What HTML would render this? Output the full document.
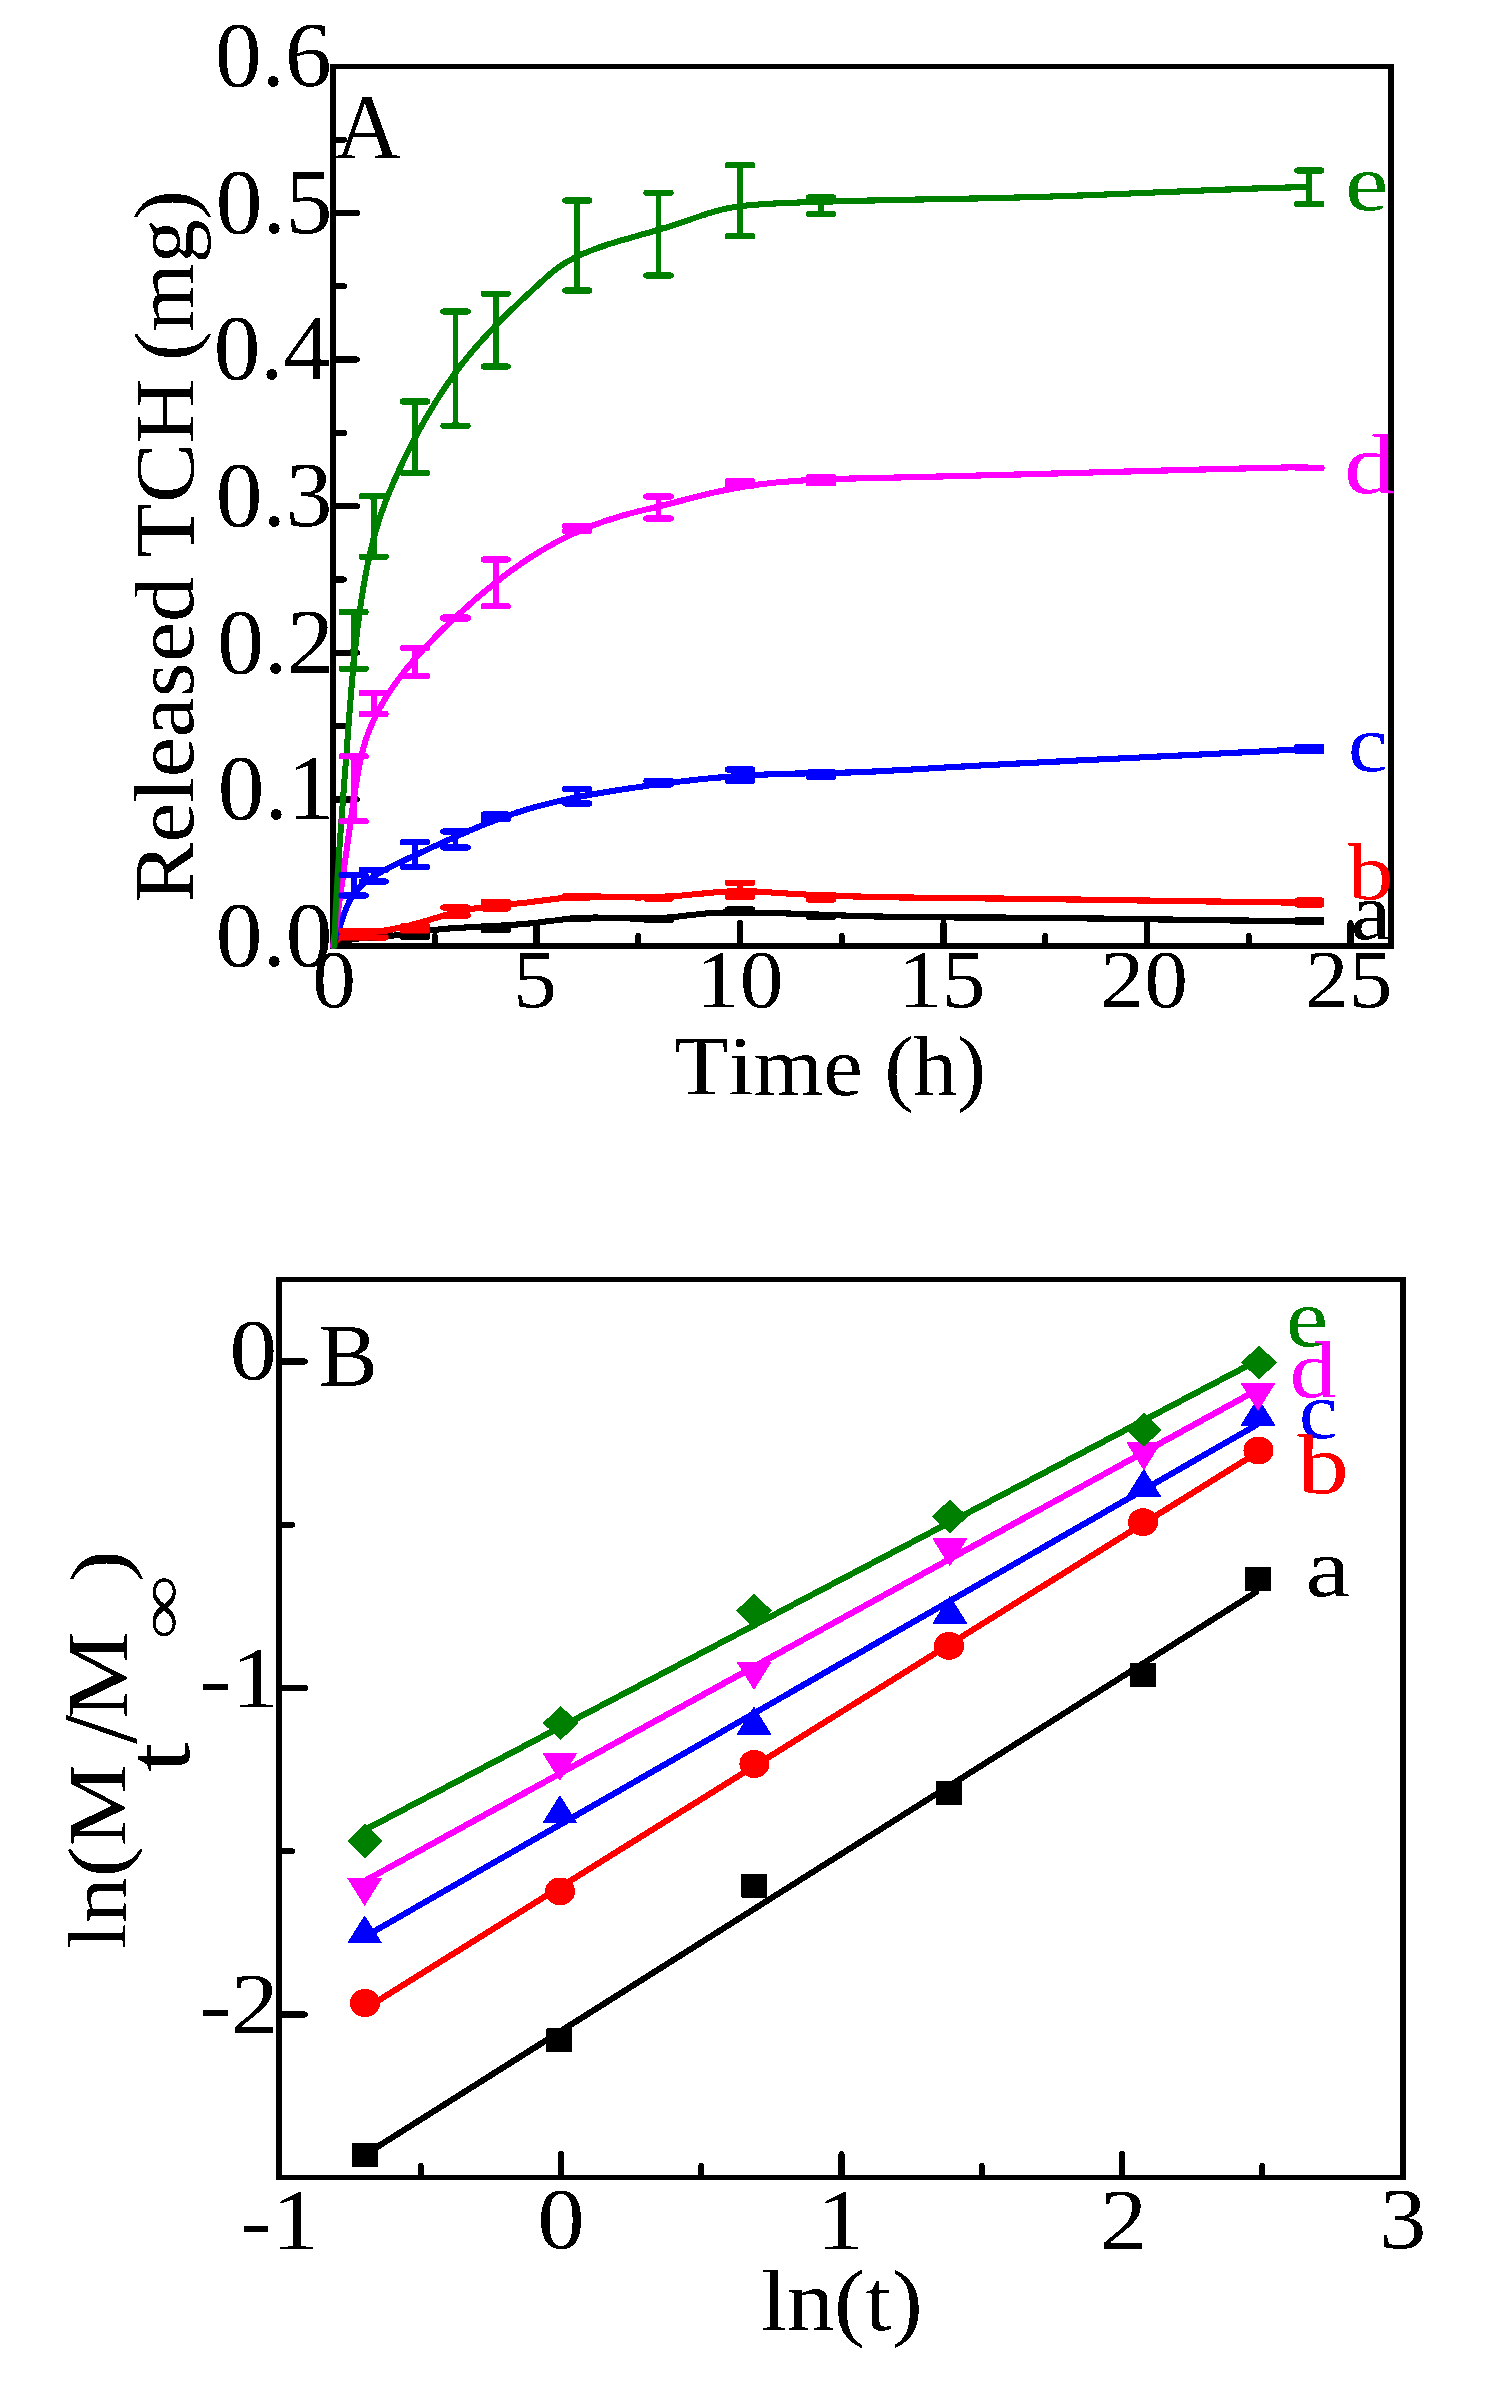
<!DOCTYPE html>
<html><head><meta charset="utf-8"><style>
html,body{margin:0;padding:0;background:#fff;overflow:hidden;}
svg{display:block;}
text{font-family:"Liberation Serif",serif;font-kerning:none;font-variant-ligatures:none;}
</style></head><body>
<svg width="1489" height="2400" viewBox="0 0 1489 2400">
<defs><filter id="crisp" x="0" y="0" width="1489" height="2400" filterUnits="userSpaceOnUse" color-interpolation-filters="sRGB"><feComponentTransfer><feFuncA type="discrete" tableValues="0 1"/></feComponentTransfer></filter></defs>
<rect width="1489" height="2400" fill="#fff"/>
<g filter="url(#crisp)">
<line x1="536.5" y1="944" x2="536.5" y2="923" stroke="#000" stroke-width="6" stroke-linecap="round"/>
<line x1="740" y1="944" x2="740" y2="923" stroke="#000" stroke-width="6" stroke-linecap="round"/>
<line x1="943.5" y1="944" x2="943.5" y2="923" stroke="#000" stroke-width="6" stroke-linecap="round"/>
<line x1="1147" y1="944" x2="1147" y2="923" stroke="#000" stroke-width="6" stroke-linecap="round"/>
<line x1="1350.5" y1="944" x2="1350.5" y2="923" stroke="#000" stroke-width="6" stroke-linecap="round"/>
<line x1="434.75" y1="944" x2="434.75" y2="936" stroke="#000" stroke-width="6" stroke-linecap="round"/>
<line x1="638.25" y1="944" x2="638.25" y2="936" stroke="#000" stroke-width="6" stroke-linecap="round"/>
<line x1="841.75" y1="944" x2="841.75" y2="936" stroke="#000" stroke-width="6" stroke-linecap="round"/>
<line x1="1045.25" y1="944" x2="1045.25" y2="936" stroke="#000" stroke-width="6" stroke-linecap="round"/>
<line x1="1248.75" y1="944" x2="1248.75" y2="936" stroke="#000" stroke-width="6" stroke-linecap="round"/>
<line x1="335" y1="799.4" x2="357" y2="799.4" stroke="#000" stroke-width="6" stroke-linecap="round"/>
<line x1="335" y1="652.8" x2="357" y2="652.8" stroke="#000" stroke-width="6" stroke-linecap="round"/>
<line x1="335" y1="506.2" x2="357" y2="506.2" stroke="#000" stroke-width="6" stroke-linecap="round"/>
<line x1="335" y1="359.6" x2="357" y2="359.6" stroke="#000" stroke-width="6" stroke-linecap="round"/>
<line x1="335" y1="213" x2="357" y2="213" stroke="#000" stroke-width="6" stroke-linecap="round"/>
<line x1="335" y1="872.7" x2="344" y2="872.7" stroke="#000" stroke-width="6" stroke-linecap="round"/>
<line x1="335" y1="726.1" x2="344" y2="726.1" stroke="#000" stroke-width="6" stroke-linecap="round"/>
<line x1="335" y1="579.5" x2="344" y2="579.5" stroke="#000" stroke-width="6" stroke-linecap="round"/>
<line x1="335" y1="432.9" x2="344" y2="432.9" stroke="#000" stroke-width="6" stroke-linecap="round"/>
<line x1="335" y1="286.3" x2="344" y2="286.3" stroke="#000" stroke-width="6" stroke-linecap="round"/>
<line x1="335" y1="139.7" x2="344" y2="139.7" stroke="#000" stroke-width="6" stroke-linecap="round"/>
<rect x="330" y="64" width="1064" height="5" fill="#000"/>
<rect x="330" y="943" width="1064" height="6" fill="#000"/>
<rect x="330" y="64" width="6" height="885" fill="#000"/>
<rect x="1388" y="64" width="6" height="885" fill="#000"/>
<line x1="561" y1="2176" x2="561" y2="2154" stroke="#000" stroke-width="6" stroke-linecap="round"/>
<line x1="841.5" y1="2176" x2="841.5" y2="2154" stroke="#000" stroke-width="6" stroke-linecap="round"/>
<line x1="1122" y1="2176" x2="1122" y2="2154" stroke="#000" stroke-width="6" stroke-linecap="round"/>
<line x1="420.75" y1="2176" x2="420.75" y2="2166" stroke="#000" stroke-width="6" stroke-linecap="round"/>
<line x1="701.25" y1="2176" x2="701.25" y2="2166" stroke="#000" stroke-width="6" stroke-linecap="round"/>
<line x1="981.75" y1="2176" x2="981.75" y2="2166" stroke="#000" stroke-width="6" stroke-linecap="round"/>
<line x1="1262.25" y1="2176" x2="1262.25" y2="2166" stroke="#000" stroke-width="6" stroke-linecap="round"/>
<line x1="281" y1="1361.5" x2="305" y2="1361.5" stroke="#000" stroke-width="6" stroke-linecap="round"/>
<line x1="281" y1="1688" x2="305" y2="1688" stroke="#000" stroke-width="6" stroke-linecap="round"/>
<line x1="281" y1="2014.5" x2="305" y2="2014.5" stroke="#000" stroke-width="6" stroke-linecap="round"/>
<line x1="281" y1="1524.75" x2="292" y2="1524.75" stroke="#000" stroke-width="6" stroke-linecap="round"/>
<line x1="281" y1="1851.25" x2="292" y2="1851.25" stroke="#000" stroke-width="6" stroke-linecap="round"/>
<rect x="276" y="1277" width="1130" height="5" fill="#000"/>
<rect x="276" y="2175" width="1130" height="5" fill="#000"/>
<rect x="276" y="1277" width="6" height="903" fill="#000"/>
<rect x="1400" y="1277" width="6" height="903" fill="#000"/>
<path d="M333.00,946.00 L334.70,945.04 L336.42,944.17 L338.17,943.38 L339.95,942.67 L341.74,942.02 L343.56,941.45 L345.40,940.93 L347.26,940.47 L349.14,940.06 L351.03,939.69 L352.93,939.37 L354.85,939.08 L356.78,938.83 L358.71,938.60 L360.65,938.39 L362.60,938.20 L364.56,938.03 L366.51,937.87 L368.47,937.72 L370.44,937.57 L372.41,937.43 L374.38,937.30 L376.34,937.16 L378.31,937.03 L380.28,936.89 L382.25,936.74 L384.22,936.58 L386.18,936.41 L388.14,936.22 L390.10,936.02 L392.05,935.81 L394.00,935.58 L395.94,935.34 L397.89,935.09 L399.83,934.83 L401.77,934.56 L403.70,934.29 L405.64,934.01 L407.57,933.72 L409.50,933.43 L411.43,933.14 L413.36,932.85 L415.29,932.56 L417.22,932.27 L419.15,931.98 L421.08,931.69 L423.01,931.42 L424.94,931.14 L426.87,930.88 L428.80,930.62 L430.73,930.38 L432.66,930.14 L434.60,929.91 L436.53,929.70 L438.47,929.49 L440.41,929.30 L442.35,929.11 L444.29,928.93 L446.23,928.76 L448.17,928.59 L450.12,928.43 L452.06,928.28 L454.01,928.14 L455.95,928.00 L457.90,927.87 L459.85,927.74 L461.80,927.62 L463.74,927.50 L465.69,927.39 L467.64,927.28 L469.60,927.17 L471.55,927.07 L473.50,926.97 L475.45,926.87 L477.40,926.77 L479.36,926.67 L481.31,926.58 L483.26,926.49 L485.22,926.39 L487.17,926.30 L489.13,926.20 L491.08,926.11 L493.03,926.01 L494.99,925.91 L496.94,925.81 L498.90,925.71 L500.85,925.60 L502.80,925.49 L504.76,925.38 L506.71,925.26 L508.66,925.14 L510.62,925.01 L512.57,924.88 L514.52,924.75 L516.47,924.60 L518.42,924.45 L520.37,924.30 L522.32,924.13 L524.27,923.96 L526.22,923.78 L528.17,923.60 L530.12,923.40 L532.06,923.20 L534.01,922.98 L535.95,922.76 L537.90,922.54 L539.84,922.31 L541.78,922.07 L543.73,921.83 L545.67,921.59 L547.61,921.35 L549.55,921.11 L551.50,920.87 L553.44,920.63 L555.38,920.39 L557.32,920.16 L559.26,919.93 L561.21,919.70 L563.15,919.49 L565.09,919.27 L567.04,919.07 L568.98,918.88 L570.93,918.70 L572.87,918.53 L574.82,918.37 L576.77,918.22 L578.71,918.09 L580.66,917.97 L582.61,917.87 L584.56,917.78 L586.52,917.72 L588.47,917.66 L590.42,917.63 L592.38,917.60 L594.33,917.59 L596.29,917.59 L598.25,917.61 L600.21,917.63 L602.17,917.66 L604.12,917.70 L606.08,917.74 L608.04,917.79 L610.00,917.85 L611.96,917.90 L613.92,917.96 L615.88,918.03 L617.84,918.09 L619.80,918.15 L621.76,918.21 L623.72,918.26 L625.68,918.31 L627.64,918.36 L629.60,918.40 L631.56,918.44 L633.51,918.46 L635.47,918.48 L637.43,918.49 L639.38,918.49 L641.33,918.48 L643.29,918.46 L645.24,918.44 L647.20,918.40 L649.15,918.36 L651.10,918.31 L653.05,918.24 L655.00,918.17 L656.95,918.09 L658.90,918.00 L660.85,917.89 L662.80,917.78 L664.75,917.66 L666.70,917.52 L668.65,917.38 L670.60,917.22 L672.55,917.05 L674.50,916.88 L676.44,916.69 L678.39,916.49 L680.34,916.27 L682.29,916.05 L684.23,915.82 L686.18,915.58 L688.13,915.34 L690.07,915.10 L692.02,914.86 L693.97,914.63 L695.92,914.40 L697.86,914.19 L699.81,913.98 L701.76,913.79 L703.71,913.62 L705.65,913.46 L707.60,913.32 L709.55,913.19 L711.50,913.07 L713.45,912.97 L715.40,912.88 L717.34,912.80 L719.29,912.73 L721.24,912.67 L723.19,912.62 L725.14,912.58 L727.09,912.55 L729.04,912.53 L730.99,912.51 L732.94,912.50 L734.89,912.49 L736.84,912.49 L738.79,912.50 L740.74,912.51 L742.70,912.52 L744.65,912.53 L746.60,912.55 L748.55,912.57 L750.50,912.59 L752.45,912.62 L754.41,912.65 L756.36,912.68 L758.31,912.71 L760.26,912.75 L762.22,912.79 L764.17,912.83 L766.12,912.87 L768.07,912.92 L770.03,912.96 L771.98,913.01 L773.93,913.06 L775.89,913.12 L777.84,913.17 L779.79,913.23 L781.75,913.29 L783.70,913.35 L785.66,913.41 L787.61,913.47 L789.56,913.54 L791.52,913.60 L793.47,913.67 L795.43,913.74 L797.38,913.80 L799.34,913.87 L801.29,913.94 L803.25,914.01 L805.20,914.09 L807.16,914.16 L809.11,914.23 L811.07,914.30 L813.02,914.38 L814.98,914.45 L816.93,914.52 L818.89,914.60 L820.84,914.67 L822.80,914.75 L824.75,914.82 L826.71,914.89 L828.67,914.97 L830.62,915.04 L832.58,915.11 L834.53,915.18 L836.49,915.25 L838.44,915.33 L840.40,915.40 L842.36,915.46 L844.31,915.53 L846.27,915.60 L848.22,915.66 L850.18,915.73 L852.14,915.79 L854.09,915.86 L856.05,915.92 L858.00,915.98 L859.96,916.03 L861.92,916.09 L863.87,916.14 L865.83,916.20 L867.79,916.25 L869.74,916.30 L871.70,916.35 L873.65,916.39 L875.61,916.44 L877.57,916.48 L879.52,916.52 L881.48,916.57 L883.43,916.61 L885.39,916.64 L887.35,916.68 L889.30,916.72 L891.26,916.75 L893.22,916.79 L895.17,916.82 L897.13,916.85 L899.08,916.88 L901.04,916.91 L903.00,916.94 L904.95,916.96 L906.91,916.99 L908.87,917.01 L910.82,917.04 L912.78,917.06 L914.74,917.08 L916.69,917.10 L918.65,917.12 L920.60,917.14 L922.56,917.16 L924.52,917.18 L926.47,917.20 L928.43,917.21 L930.39,917.23 L932.34,917.24 L934.30,917.26 L936.25,917.27 L938.21,917.29 L940.17,917.30 L942.12,917.31 L944.08,917.32 L946.04,917.34 L947.99,917.35 L949.95,917.36 L951.91,917.37 L953.86,917.38 L955.82,917.39 L957.77,917.40 L959.73,917.40 L961.69,917.41 L963.64,917.42 L965.60,917.43 L967.56,917.44 L969.51,917.45 L971.47,917.45 L973.43,917.46 L975.38,917.47 L977.34,917.48 L979.29,917.49 L981.25,917.49 L983.21,917.50 L985.16,917.51 L987.12,917.52 L989.08,917.53 L991.03,917.54 L992.99,917.54 L994.95,917.55 L996.90,917.56 L998.86,917.57 L1000.81,917.58 L1002.77,917.59 L1004.73,917.60 L1006.68,917.61 L1008.64,917.63 L1010.60,917.64 L1012.55,917.65 L1014.51,917.66 L1016.47,917.68 L1018.42,917.69 L1020.38,917.70 L1022.33,917.72 L1024.29,917.73 L1026.25,917.75 L1028.20,917.76 L1030.16,917.78 L1032.12,917.80 L1034.07,917.81 L1036.03,917.83 L1037.99,917.85 L1039.94,917.87 L1041.90,917.88 L1043.85,917.90 L1045.81,917.92 L1047.77,917.94 L1049.72,917.96 L1051.68,917.98 L1053.64,918.00 L1055.59,918.02 L1057.55,918.04 L1059.51,918.06 L1061.46,918.09 L1063.42,918.11 L1065.37,918.13 L1067.33,918.15 L1069.29,918.18 L1071.24,918.20 L1073.20,918.22 L1075.16,918.24 L1077.11,918.27 L1079.07,918.29 L1081.02,918.32 L1082.98,918.34 L1084.94,918.37 L1086.89,918.39 L1088.85,918.42 L1090.81,918.44 L1092.76,918.47 L1094.72,918.49 L1096.68,918.52 L1098.63,918.54 L1100.59,918.57 L1102.54,918.60 L1104.50,918.62 L1106.46,918.65 L1108.41,918.68 L1110.37,918.70 L1112.33,918.73 L1114.28,918.76 L1116.24,918.79 L1118.19,918.81 L1120.15,918.84 L1122.11,918.87 L1124.06,918.90 L1126.02,918.93 L1127.98,918.95 L1129.93,918.98 L1131.89,919.01 L1133.84,919.04 L1135.80,919.07 L1137.76,919.10 L1139.71,919.12 L1141.67,919.15 L1143.63,919.18 L1145.58,919.21 L1147.54,919.24 L1149.50,919.27 L1151.45,919.30 L1153.41,919.32 L1155.36,919.35 L1157.32,919.38 L1159.28,919.41 L1161.23,919.44 L1163.19,919.47 L1165.15,919.50 L1167.10,919.53 L1169.06,919.55 L1171.01,919.58 L1172.97,919.61 L1174.93,919.64 L1176.88,919.67 L1178.84,919.70 L1180.80,919.72 L1182.75,919.75 L1184.71,919.78 L1186.66,919.81 L1188.62,919.84 L1190.58,919.86 L1192.53,919.89 L1194.49,919.92 L1196.45,919.95 L1198.40,919.97 L1200.36,920.00 L1202.31,920.03 L1204.27,920.06 L1206.23,920.08 L1208.18,920.11 L1210.14,920.14 L1212.10,920.16 L1214.05,920.19 L1216.01,920.21 L1217.97,920.24 L1219.92,920.26 L1221.88,920.29 L1223.83,920.32 L1225.79,920.34 L1227.75,920.36 L1229.70,920.39 L1231.66,920.41 L1233.62,920.44 L1235.57,920.46 L1237.53,920.48 L1239.48,920.51 L1241.44,920.53 L1243.40,920.55 L1245.35,920.58 L1247.31,920.60 L1249.27,920.62 L1251.22,920.64 L1253.18,920.66 L1255.14,920.68 L1257.09,920.70 L1259.05,920.72 L1261.00,920.74 L1262.96,920.76 L1264.92,920.78 L1266.87,920.80 L1268.83,920.82 L1270.79,920.84 L1272.74,920.86 L1274.70,920.87 L1276.65,920.89 L1278.61,920.91 L1280.57,920.92 L1282.52,920.94 L1284.48,920.96 L1286.44,920.97 L1288.39,920.99 L1290.35,921.00 L1292.31,921.01 L1294.26,921.03 L1296.22,921.04 L1298.17,921.05 L1300.13,921.07 L1302.09,921.08 L1304.04,921.09 L1306.00,921.10" fill="none" stroke="#000000" stroke-width="6" stroke-linejoin="round" stroke-linecap="round"/>
<path d="M333.00,946.00 L333.89,944.04 L334.93,942.34 L336.10,940.86 L337.40,939.60 L338.81,938.53 L340.32,937.63 L341.92,936.88 L343.60,936.26 L345.35,935.75 L347.15,935.33 L348.99,934.98 L350.87,934.68 L352.77,934.41 L354.69,934.15 L356.61,933.90 L358.55,933.66 L360.49,933.42 L362.44,933.19 L364.40,932.96 L366.36,932.73 L368.33,932.50 L370.31,932.27 L372.28,932.04 L374.26,931.80 L376.24,931.56 L378.22,931.31 L380.20,931.05 L382.18,930.78 L384.16,930.49 L386.13,930.20 L388.10,929.88 L390.07,929.56 L392.03,929.21 L393.98,928.85 L395.93,928.46 L397.87,928.06 L399.80,927.65 L401.73,927.22 L403.66,926.77 L405.58,926.32 L407.50,925.85 L409.41,925.36 L411.32,924.87 L413.22,924.37 L415.12,923.86 L417.02,923.34 L418.92,922.81 L420.81,922.28 L422.70,921.74 L424.59,921.20 L426.48,920.66 L428.37,920.11 L430.25,919.56 L432.14,919.02 L434.02,918.47 L435.90,917.92 L437.79,917.38 L439.67,916.83 L441.56,916.30 L443.44,915.76 L445.33,915.24 L447.22,914.72 L449.11,914.20 L451.00,913.70 L452.90,913.21 L454.79,912.72 L456.69,912.25 L458.60,911.79 L460.50,911.34 L462.41,910.91 L464.33,910.49 L466.25,910.09 L468.17,909.70 L470.10,909.33 L472.03,908.98 L473.96,908.64 L475.90,908.31 L477.85,908.00 L479.79,907.70 L481.74,907.42 L483.69,907.14 L485.65,906.88 L487.61,906.62 L489.57,906.37 L491.53,906.14 L493.49,905.90 L495.46,905.68 L497.42,905.46 L499.39,905.25 L501.36,905.04 L503.33,904.84 L505.30,904.64 L507.27,904.44 L509.25,904.24 L511.22,904.05 L513.19,903.85 L515.16,903.66 L517.13,903.46 L519.10,903.26 L521.07,903.06 L523.03,902.85 L525.00,902.65 L526.97,902.43 L528.93,902.21 L530.89,901.99 L532.85,901.75 L534.80,901.52 L536.76,901.28 L538.71,901.03 L540.66,900.78 L542.61,900.53 L544.56,900.28 L546.51,900.03 L548.46,899.79 L550.40,899.54 L552.35,899.30 L554.30,899.06 L556.24,898.83 L558.19,898.60 L560.14,898.38 L562.08,898.17 L564.03,897.97 L565.98,897.78 L567.93,897.60 L569.88,897.43 L571.83,897.27 L573.78,897.13 L575.74,897.00 L577.69,896.89 L579.65,896.80 L581.61,896.72 L583.58,896.65 L585.54,896.60 L587.51,896.57 L589.47,896.55 L591.44,896.53 L593.41,896.53 L595.38,896.54 L597.35,896.56 L599.33,896.59 L601.30,896.62 L603.27,896.66 L605.25,896.70 L607.23,896.75 L609.20,896.80 L611.18,896.86 L613.15,896.91 L615.13,896.97 L617.11,897.03 L619.08,897.08 L621.06,897.14 L623.03,897.19 L625.01,897.23 L626.98,897.28 L628.96,897.31 L630.93,897.34 L632.90,897.37 L634.88,897.38 L636.85,897.39 L638.82,897.39 L640.78,897.38 L642.75,897.37 L644.72,897.34 L646.69,897.31 L648.65,897.27 L650.62,897.23 L652.59,897.18 L654.55,897.11 L656.52,897.05 L658.48,896.97 L660.44,896.89 L662.41,896.80 L664.37,896.70 L666.33,896.59 L668.30,896.48 L670.26,896.36 L672.22,896.23 L674.19,896.10 L676.15,895.95 L678.11,895.80 L680.07,895.64 L682.04,895.48 L684.00,895.31 L685.96,895.13 L687.93,894.95 L689.89,894.76 L691.86,894.57 L693.82,894.38 L695.78,894.19 L697.75,894.00 L699.71,893.80 L701.68,893.61 L703.64,893.42 L705.60,893.23 L707.57,893.05 L709.53,892.86 L711.50,892.69 L713.46,892.52 L715.43,892.35 L717.39,892.19 L719.36,892.05 L721.32,891.91 L723.29,891.77 L725.25,891.65 L727.22,891.54 L729.18,891.45 L731.15,891.36 L733.11,891.29 L735.08,891.24 L737.04,891.20 L739.01,891.17 L740.98,891.16 L742.94,891.17 L744.91,891.20 L746.87,891.24 L748.84,891.29 L750.80,891.35 L752.77,891.43 L754.73,891.52 L756.70,891.61 L758.67,891.72 L760.63,891.83 L762.60,891.95 L764.56,892.07 L766.53,892.20 L768.50,892.33 L770.46,892.46 L772.43,892.59 L774.39,892.73 L776.36,892.86 L778.33,892.99 L780.29,893.11 L782.26,893.24 L784.22,893.36 L786.19,893.48 L788.16,893.60 L790.12,893.71 L792.09,893.83 L794.06,893.94 L796.02,894.05 L797.99,894.16 L799.96,894.26 L801.92,894.37 L803.89,894.47 L805.86,894.57 L807.83,894.66 L809.79,894.76 L811.76,894.85 L813.73,894.94 L815.69,895.03 L817.66,895.12 L819.63,895.20 L821.60,895.29 L823.56,895.37 L825.53,895.45 L827.50,895.53 L829.47,895.60 L831.43,895.68 L833.40,895.75 L835.37,895.82 L837.34,895.89 L839.31,895.96 L841.27,896.03 L843.24,896.09 L845.21,896.16 L847.18,896.22 L849.15,896.28 L851.11,896.34 L853.08,896.39 L855.05,896.45 L857.02,896.51 L858.99,896.56 L860.96,896.61 L862.92,896.66 L864.89,896.71 L866.86,896.76 L868.83,896.81 L870.80,896.85 L872.77,896.90 L874.74,896.94 L876.71,896.98 L878.67,897.03 L880.64,897.07 L882.61,897.10 L884.58,897.14 L886.55,897.18 L888.52,897.22 L890.49,897.25 L892.46,897.29 L894.43,897.32 L896.39,897.35 L898.36,897.39 L900.33,897.42 L902.30,897.45 L904.27,897.48 L906.24,897.51 L908.21,897.53 L910.18,897.56 L912.15,897.59 L914.12,897.61 L916.09,897.64 L918.06,897.67 L920.02,897.69 L921.99,897.71 L923.96,897.74 L925.93,897.76 L927.90,897.78 L929.87,897.81 L931.84,897.83 L933.81,897.85 L935.78,897.87 L937.75,897.89 L939.72,897.91 L941.69,897.93 L943.66,897.96 L945.63,897.98 L947.60,898.00 L949.57,898.02 L951.54,898.04 L953.50,898.06 L955.47,898.07 L957.44,898.09 L959.41,898.11 L961.38,898.13 L963.35,898.15 L965.32,898.17 L967.29,898.19 L969.26,898.21 L971.23,898.23 L973.20,898.25 L975.17,898.27 L977.14,898.30 L979.11,898.32 L981.08,898.34 L983.05,898.36 L985.02,898.38 L986.99,898.40 L988.95,898.42 L990.92,898.45 L992.89,898.47 L994.86,898.49 L996.83,898.51 L998.80,898.54 L1000.77,898.56 L1002.74,898.58 L1004.71,898.60 L1006.68,898.63 L1008.65,898.65 L1010.62,898.67 L1012.59,898.70 L1014.56,898.72 L1016.53,898.75 L1018.49,898.77 L1020.46,898.80 L1022.43,898.82 L1024.40,898.84 L1026.37,898.87 L1028.34,898.89 L1030.31,898.92 L1032.28,898.94 L1034.25,898.97 L1036.22,898.99 L1038.19,899.02 L1040.16,899.05 L1042.13,899.07 L1044.10,899.10 L1046.06,899.12 L1048.03,899.15 L1050.00,899.18 L1051.97,899.20 L1053.94,899.23 L1055.91,899.25 L1057.88,899.28 L1059.85,899.31 L1061.82,899.33 L1063.79,899.36 L1065.76,899.39 L1067.73,899.42 L1069.70,899.44 L1071.66,899.47 L1073.63,899.50 L1075.60,899.52 L1077.57,899.55 L1079.54,899.58 L1081.51,899.61 L1083.48,899.63 L1085.45,899.66 L1087.42,899.69 L1089.39,899.72 L1091.36,899.75 L1093.33,899.77 L1095.29,899.80 L1097.26,899.83 L1099.23,899.86 L1101.20,899.89 L1103.17,899.91 L1105.14,899.94 L1107.11,899.97 L1109.08,900.00 L1111.05,900.03 L1113.02,900.06 L1114.99,900.08 L1116.96,900.11 L1118.92,900.14 L1120.89,900.17 L1122.86,900.20 L1124.83,900.23 L1126.80,900.26 L1128.77,900.29 L1130.74,900.31 L1132.71,900.34 L1134.68,900.37 L1136.65,900.40 L1138.62,900.43 L1140.59,900.46 L1142.55,900.49 L1144.52,900.52 L1146.49,900.54 L1148.46,900.57 L1150.43,900.60 L1152.40,900.63 L1154.37,900.66 L1156.34,900.69 L1158.31,900.72 L1160.28,900.75 L1162.25,900.77 L1164.22,900.80 L1166.18,900.83 L1168.15,900.86 L1170.12,900.89 L1172.09,900.92 L1174.06,900.95 L1176.03,900.98 L1178.00,901.00 L1179.97,901.03 L1181.94,901.06 L1183.91,901.09 L1185.88,901.12 L1187.84,901.15 L1189.81,901.18 L1191.78,901.20 L1193.75,901.23 L1195.72,901.26 L1197.69,901.29 L1199.66,901.32 L1201.63,901.34 L1203.60,901.37 L1205.57,901.40 L1207.54,901.43 L1209.51,901.46 L1211.48,901.48 L1213.44,901.51 L1215.41,901.54 L1217.38,901.57 L1219.35,901.59 L1221.32,901.62 L1223.29,901.65 L1225.26,901.68 L1227.23,901.70 L1229.20,901.73 L1231.17,901.76 L1233.14,901.78 L1235.11,901.81 L1237.07,901.84 L1239.04,901.87 L1241.01,901.89 L1242.98,901.92 L1244.95,901.94 L1246.92,901.97 L1248.89,902.00 L1250.86,902.02 L1252.83,902.05 L1254.80,902.07 L1256.77,902.10 L1258.74,902.13 L1260.71,902.15 L1262.67,902.18 L1264.64,902.20 L1266.61,902.23 L1268.58,902.25 L1270.55,902.28 L1272.52,902.30 L1274.49,902.33 L1276.46,902.35 L1278.43,902.37 L1280.40,902.40 L1282.37,902.42 L1284.34,902.45 L1286.31,902.47 L1288.28,902.49 L1290.25,902.52 L1292.21,902.54 L1294.18,902.56 L1296.15,902.59 L1298.12,902.61 L1300.09,902.63 L1302.06,902.66 L1304.03,902.68 L1306.00,902.70" fill="none" stroke="#ff0000" stroke-width="6" stroke-linejoin="round" stroke-linecap="round"/>
<path d="M333.00,946.00 L333.77,944.13 L334.51,942.23 L335.23,940.31 L335.93,938.37 L336.61,936.41 L337.27,934.43 L337.92,932.44 L338.57,930.44 L339.21,928.43 L339.85,926.42 L340.49,924.41 L341.13,922.40 L341.79,920.39 L342.45,918.39 L343.13,916.40 L343.83,914.42 L344.55,912.45 L345.30,910.51 L346.08,908.59 L346.89,906.69 L347.73,904.81 L348.61,902.97 L349.53,901.16 L350.50,899.39 L351.52,897.65 L352.59,895.95 L353.71,894.30 L354.89,892.69 L356.14,891.14 L357.44,889.63 L358.80,888.17 L360.21,886.75 L361.68,885.37 L363.19,884.04 L364.75,882.74 L366.34,881.48 L367.98,880.26 L369.65,879.06 L371.36,877.90 L373.10,876.77 L374.86,875.66 L376.64,874.58 L378.45,873.52 L380.28,872.48 L382.11,871.47 L383.97,870.46 L385.83,869.48 L387.69,868.50 L389.56,867.54 L391.43,866.59 L393.30,865.65 L395.18,864.72 L397.06,863.80 L398.93,862.88 L400.81,861.98 L402.69,861.08 L404.56,860.18 L406.44,859.30 L408.31,858.41 L410.18,857.54 L412.05,856.66 L413.92,855.79 L415.79,854.92 L417.66,854.06 L419.53,853.19 L421.39,852.33 L423.26,851.47 L425.13,850.61 L427.00,849.74 L428.87,848.88 L430.74,848.02 L432.61,847.15 L434.49,846.29 L436.36,845.43 L438.24,844.57 L440.12,843.71 L442.00,842.85 L443.88,841.99 L445.76,841.14 L447.65,840.29 L449.53,839.44 L451.42,838.59 L453.31,837.74 L455.20,836.90 L457.09,836.06 L458.98,835.22 L460.88,834.39 L462.77,833.55 L464.67,832.73 L466.57,831.91 L468.47,831.09 L470.38,830.27 L472.29,829.46 L474.19,828.66 L476.11,827.86 L478.02,827.07 L479.93,826.28 L481.85,825.49 L483.77,824.72 L485.69,823.95 L487.62,823.18 L489.54,822.42 L491.47,821.67 L493.40,820.93 L495.34,820.19 L497.27,819.46 L499.21,818.74 L501.15,818.02 L503.10,817.32 L505.05,816.62 L507.00,815.93 L508.95,815.24 L510.90,814.57 L512.86,813.91 L514.82,813.25 L516.79,812.61 L518.76,811.97 L520.73,811.35 L522.70,810.73 L524.68,810.13 L526.66,809.53 L528.64,808.94 L530.62,808.36 L532.61,807.80 L534.60,807.24 L536.60,806.69 L538.59,806.14 L540.59,805.61 L542.59,805.09 L544.59,804.57 L546.60,804.06 L548.61,803.56 L550.62,803.07 L552.63,802.58 L554.64,802.11 L556.66,801.64 L558.68,801.17 L560.70,800.72 L562.72,800.27 L564.74,799.83 L566.77,799.39 L568.80,798.96 L570.83,798.54 L572.86,798.12 L574.89,797.71 L576.92,797.30 L578.96,796.90 L580.99,796.51 L583.03,796.12 L585.07,795.73 L587.11,795.35 L589.15,794.98 L591.19,794.61 L593.24,794.24 L595.28,793.88 L597.32,793.53 L599.37,793.17 L601.42,792.83 L603.46,792.48 L605.51,792.14 L607.56,791.80 L609.61,791.47 L611.66,791.13 L613.71,790.81 L615.76,790.48 L617.81,790.16 L619.86,789.84 L621.91,789.52 L623.96,789.20 L626.01,788.89 L628.06,788.57 L630.11,788.27 L632.16,787.96 L634.21,787.65 L636.26,787.35 L638.31,787.05 L640.36,786.75 L642.42,786.46 L644.47,786.17 L646.52,785.88 L648.57,785.59 L650.62,785.31 L652.68,785.02 L654.73,784.74 L656.78,784.47 L658.83,784.19 L660.89,783.92 L662.94,783.66 L664.99,783.39 L667.05,783.13 L669.10,782.87 L671.15,782.61 L673.21,782.36 L675.26,782.11 L677.32,781.86 L679.37,781.61 L681.43,781.37 L683.48,781.13 L685.54,780.90 L687.59,780.67 L689.65,780.44 L691.71,780.21 L693.76,779.99 L695.82,779.77 L697.88,779.56 L699.93,779.34 L701.99,779.13 L704.05,778.93 L706.11,778.73 L708.17,778.53 L710.23,778.33 L712.28,778.14 L714.34,777.95 L716.40,777.77 L718.46,777.59 L720.52,777.41 L722.58,777.24 L724.65,777.07 L726.71,776.90 L728.77,776.74 L730.83,776.58 L732.89,776.43 L734.95,776.28 L737.02,776.13 L739.08,775.99 L741.14,775.85 L743.21,775.71 L745.27,775.58 L747.34,775.45 L749.40,775.33 L751.47,775.21 L753.53,775.10 L755.60,774.99 L757.67,774.88 L759.73,774.78 L761.80,774.68 L763.87,774.59 L765.94,774.50 L768.01,774.42 L770.08,774.34 L772.15,774.26 L774.22,774.18 L776.29,774.11 L778.36,774.05 L780.43,773.98 L782.50,773.92 L784.57,773.86 L786.64,773.81 L788.71,773.76 L790.78,773.70 L792.86,773.66 L794.93,773.61 L797.00,773.56 L799.07,773.52 L801.15,773.48 L803.22,773.43 L805.29,773.39 L807.37,773.35 L809.44,773.31 L811.51,773.28 L813.59,773.24 L815.66,773.20 L817.73,773.16 L819.81,773.12 L821.88,773.08 L823.95,773.05 L826.03,773.01 L828.10,772.96 L830.18,772.92 L832.25,772.88 L834.32,772.83 L836.39,772.79 L838.47,772.74 L840.54,772.69 L842.61,772.64 L844.69,772.58 L846.76,772.53 L848.83,772.47 L850.90,772.40 L852.97,772.34 L855.05,772.27 L857.12,772.20 L859.19,772.12 L861.26,772.05 L863.33,771.96 L865.40,771.88 L867.47,771.79 L869.54,771.70 L871.61,771.61 L873.68,771.52 L875.75,771.42 L877.81,771.32 L879.88,771.22 L881.95,771.11 L884.02,771.01 L886.09,770.90 L888.16,770.79 L890.22,770.68 L892.29,770.57 L894.36,770.45 L896.43,770.34 L898.50,770.22 L900.56,770.10 L902.63,769.98 L904.70,769.87 L906.77,769.74 L908.83,769.62 L910.90,769.50 L912.97,769.38 L915.03,769.26 L917.10,769.13 L919.17,769.01 L921.24,768.89 L923.30,768.77 L925.37,768.64 L927.44,768.52 L929.50,768.40 L931.57,768.28 L933.64,768.16 L935.71,768.04 L937.77,767.92 L939.84,767.80 L941.91,767.68 L943.98,767.56 L946.04,767.44 L948.11,767.32 L950.18,767.20 L952.25,767.08 L954.31,766.97 L956.38,766.85 L958.45,766.73 L960.52,766.62 L962.59,766.50 L964.65,766.39 L966.72,766.27 L968.79,766.16 L970.86,766.04 L972.92,765.93 L974.99,765.82 L977.06,765.70 L979.13,765.59 L981.20,765.48 L983.26,765.36 L985.33,765.25 L987.40,765.14 L989.47,765.03 L991.54,764.92 L993.61,764.81 L995.67,764.70 L997.74,764.59 L999.81,764.48 L1001.88,764.37 L1003.95,764.26 L1006.02,764.15 L1008.08,764.04 L1010.15,763.93 L1012.22,763.82 L1014.29,763.71 L1016.36,763.60 L1018.43,763.50 L1020.50,763.39 L1022.56,763.28 L1024.63,763.18 L1026.70,763.07 L1028.77,762.96 L1030.84,762.86 L1032.91,762.75 L1034.98,762.64 L1037.05,762.54 L1039.11,762.43 L1041.18,762.33 L1043.25,762.22 L1045.32,762.12 L1047.39,762.01 L1049.46,761.91 L1051.53,761.80 L1053.60,761.70 L1055.66,761.60 L1057.73,761.49 L1059.80,761.39 L1061.87,761.28 L1063.94,761.18 L1066.01,761.08 L1068.08,760.97 L1070.15,760.87 L1072.22,760.77 L1074.29,760.67 L1076.35,760.56 L1078.42,760.46 L1080.49,760.36 L1082.56,760.26 L1084.63,760.15 L1086.70,760.05 L1088.77,759.95 L1090.84,759.85 L1092.91,759.75 L1094.98,759.65 L1097.05,759.54 L1099.11,759.44 L1101.18,759.34 L1103.25,759.24 L1105.32,759.14 L1107.39,759.04 L1109.46,758.94 L1111.53,758.84 L1113.60,758.73 L1115.67,758.63 L1117.74,758.53 L1119.81,758.43 L1121.88,758.33 L1123.94,758.23 L1126.01,758.13 L1128.08,758.03 L1130.15,757.93 L1132.22,757.83 L1134.29,757.73 L1136.36,757.63 L1138.43,757.53 L1140.50,757.42 L1142.57,757.32 L1144.64,757.22 L1146.71,757.12 L1148.78,757.02 L1150.84,756.92 L1152.91,756.82 L1154.98,756.72 L1157.05,756.62 L1159.12,756.52 L1161.19,756.42 L1163.26,756.32 L1165.33,756.22 L1167.40,756.11 L1169.47,756.01 L1171.54,755.91 L1173.61,755.81 L1175.67,755.71 L1177.74,755.61 L1179.81,755.51 L1181.88,755.40 L1183.95,755.30 L1186.02,755.20 L1188.09,755.10 L1190.16,755.00 L1192.23,754.90 L1194.30,754.79 L1196.37,754.69 L1198.43,754.59 L1200.50,754.49 L1202.57,754.38 L1204.64,754.28 L1206.71,754.18 L1208.78,754.07 L1210.85,753.97 L1212.92,753.87 L1214.99,753.76 L1217.06,753.66 L1219.12,753.56 L1221.19,753.45 L1223.26,753.35 L1225.33,753.24 L1227.40,753.14 L1229.47,753.04 L1231.54,752.93 L1233.61,752.83 L1235.68,752.72 L1237.74,752.62 L1239.81,752.51 L1241.88,752.40 L1243.95,752.30 L1246.02,752.19 L1248.09,752.09 L1250.16,751.98 L1252.22,751.87 L1254.29,751.76 L1256.36,751.66 L1258.43,751.55 L1260.50,751.44 L1262.57,751.33 L1264.64,751.23 L1266.70,751.12 L1268.77,751.01 L1270.84,750.90 L1272.91,750.79 L1274.98,750.68 L1277.05,750.57 L1279.11,750.46 L1281.18,750.35 L1283.25,750.24 L1285.32,750.13 L1287.39,750.02 L1289.46,749.90 L1291.52,749.79 L1293.59,749.68 L1295.66,749.57 L1297.73,749.45 L1299.80,749.34 L1301.86,749.23 L1303.93,749.11 L1306.00,749.00" fill="none" stroke="#0000ff" stroke-width="6" stroke-linejoin="round" stroke-linecap="round"/>
<path d="M333.00,946.00 L333.37,943.52 L333.74,941.03 L334.10,938.55 L334.46,936.07 L334.82,933.59 L335.19,931.11 L335.54,928.64 L335.90,926.16 L336.26,923.68 L336.62,921.21 L336.97,918.73 L337.33,916.26 L337.68,913.79 L338.03,911.32 L338.38,908.84 L338.73,906.37 L339.08,903.90 L339.43,901.43 L339.78,898.96 L340.13,896.49 L340.47,894.02 L340.82,891.56 L341.17,889.09 L341.51,886.62 L341.86,884.15 L342.20,881.68 L342.55,879.22 L342.89,876.75 L343.24,874.28 L343.58,871.81 L343.93,869.34 L344.27,866.88 L344.61,864.41 L344.96,861.94 L345.30,859.47 L345.65,857.00 L345.99,854.53 L346.34,852.06 L346.68,849.59 L347.03,847.12 L347.37,844.65 L347.72,842.18 L348.06,839.71 L348.41,837.23 L348.76,834.76 L349.11,832.28 L349.46,829.81 L349.81,827.33 L350.16,824.86 L350.51,822.38 L350.86,819.90 L351.21,817.42 L351.57,814.94 L351.92,812.46 L352.28,809.98 L352.63,807.49 L352.99,805.01 L353.35,802.52 L353.71,800.03 L354.07,797.55 L354.43,795.06 L354.80,792.56 L355.17,790.07 L355.54,787.58 L355.92,785.09 L356.31,782.60 L356.71,780.12 L357.12,777.63 L357.54,775.15 L357.98,772.68 L358.42,770.20 L358.89,767.73 L359.37,765.27 L359.87,762.82 L360.40,760.37 L360.94,757.92 L361.50,755.49 L362.09,753.06 L362.71,750.64 L363.35,748.23 L364.02,745.83 L364.72,743.45 L365.45,741.07 L366.22,738.70 L367.02,736.35 L367.85,734.01 L368.71,731.68 L369.62,729.37 L370.55,727.07 L371.52,724.78 L372.52,722.50 L373.56,720.24 L374.62,717.99 L375.71,715.76 L376.84,713.53 L377.99,711.33 L379.16,709.13 L380.37,706.95 L381.60,704.77 L382.85,702.62 L384.13,700.47 L385.43,698.34 L386.76,696.22 L388.11,694.12 L389.47,692.02 L390.86,689.94 L392.27,687.88 L393.69,685.82 L395.13,683.78 L396.59,681.76 L398.07,679.74 L399.56,677.74 L401.06,675.75 L402.59,673.77 L404.12,671.81 L405.67,669.85 L407.23,667.91 L408.81,665.98 L410.40,664.06 L412.01,662.15 L413.62,660.25 L415.25,658.37 L416.89,656.49 L418.55,654.62 L420.21,652.77 L421.89,650.92 L423.58,649.08 L425.27,647.25 L426.98,645.43 L428.70,643.62 L430.43,641.81 L432.17,640.02 L433.91,638.23 L435.67,636.45 L437.43,634.68 L439.21,632.91 L440.99,631.15 L442.78,629.40 L444.57,627.65 L446.37,625.92 L448.18,624.18 L450.00,622.46 L451.82,620.73 L453.65,619.02 L455.48,617.31 L457.32,615.60 L459.17,613.90 L461.02,612.20 L462.87,610.51 L464.73,608.83 L466.60,607.15 L468.47,605.48 L470.35,603.81 L472.23,602.15 L474.12,600.50 L476.01,598.85 L477.91,597.21 L479.82,595.58 L481.73,593.96 L483.65,592.34 L485.58,590.74 L487.51,589.14 L489.45,587.55 L491.39,585.97 L493.34,584.39 L495.30,582.83 L497.26,581.28 L499.24,579.74 L501.21,578.20 L503.20,576.68 L505.19,575.17 L507.19,573.67 L509.20,572.18 L511.21,570.70 L513.24,569.23 L515.27,567.78 L517.30,566.33 L519.35,564.90 L521.40,563.48 L523.46,562.08 L525.53,560.68 L527.60,559.30 L529.69,557.94 L531.78,556.58 L533.88,555.24 L535.99,553.92 L538.11,552.61 L540.23,551.31 L542.37,550.03 L544.51,548.76 L546.66,547.51 L548.82,546.28 L550.99,545.06 L553.17,543.85 L555.36,542.67 L557.55,541.50 L559.76,540.34 L561.97,539.20 L564.20,538.08 L566.43,536.98 L568.67,535.90 L570.93,534.83 L573.19,533.78 L575.46,532.75 L577.74,531.73 L580.03,530.73 L582.32,529.75 L584.63,528.79 L586.94,527.84 L589.26,526.91 L591.58,526.00 L593.92,525.10 L596.26,524.22 L598.60,523.36 L600.96,522.52 L603.32,521.69 L605.68,520.87 L608.05,520.08 L610.43,519.29 L612.81,518.53 L615.20,517.78 L617.59,517.05 L619.99,516.33 L622.39,515.63 L624.80,514.95 L627.21,514.28 L629.62,513.62 L632.04,512.98 L634.46,512.36 L636.88,511.75 L639.30,511.15 L641.73,510.56 L644.16,509.97 L646.59,509.39 L649.02,508.82 L651.45,508.24 L653.89,507.66 L656.32,507.07 L658.75,506.48 L661.18,505.88 L663.61,505.27 L666.04,504.66 L668.46,504.04 L670.89,503.42 L673.32,502.79 L675.74,502.16 L678.17,501.52 L680.60,500.89 L683.02,500.25 L685.45,499.62 L687.88,498.98 L690.30,498.35 L692.73,497.72 L695.16,497.10 L697.59,496.48 L700.02,495.86 L702.45,495.26 L704.88,494.65 L707.31,494.06 L709.75,493.48 L712.18,492.90 L714.62,492.34 L717.06,491.79 L719.50,491.25 L721.94,490.72 L724.39,490.21 L726.83,489.71 L729.28,489.23 L731.73,488.76 L734.18,488.31 L736.64,487.87 L739.09,487.44 L741.55,487.03 L744.01,486.63 L746.47,486.25 L748.93,485.87 L751.40,485.52 L753.87,485.17 L756.33,484.83 L758.80,484.51 L761.27,484.20 L763.75,483.90 L766.22,483.61 L768.70,483.33 L771.17,483.06 L773.65,482.81 L776.13,482.56 L778.61,482.32 L781.10,482.09 L783.58,481.87 L786.06,481.67 L788.55,481.46 L791.04,481.27 L793.53,481.09 L796.01,480.91 L798.51,480.74 L801.00,480.58 L803.49,480.43 L805.98,480.28 L808.48,480.14 L810.97,480.01 L813.47,479.88 L815.96,479.76 L818.46,479.65 L820.96,479.54 L823.46,479.43 L825.95,479.33 L828.45,479.24 L830.95,479.15 L833.45,479.06 L835.96,478.98 L838.46,478.90 L840.96,478.82 L843.46,478.75 L845.96,478.68 L848.47,478.61 L850.97,478.55 L853.47,478.49 L855.98,478.43 L858.48,478.37 L860.98,478.31 L863.49,478.25 L865.99,478.20 L868.50,478.14 L871.00,478.09 L873.50,478.03 L876.01,477.98 L878.51,477.92 L881.02,477.86 L883.52,477.81 L886.02,477.75 L888.53,477.70 L891.03,477.64 L893.53,477.58 L896.03,477.52 L898.54,477.47 L901.04,477.41 L903.54,477.35 L906.04,477.29 L908.55,477.23 L911.05,477.17 L913.55,477.11 L916.05,477.06 L918.56,477.00 L921.06,476.94 L923.56,476.88 L926.06,476.82 L928.56,476.75 L931.06,476.69 L933.57,476.63 L936.07,476.57 L938.57,476.51 L941.07,476.45 L943.57,476.39 L946.07,476.32 L948.57,476.26 L951.07,476.20 L953.57,476.14 L956.07,476.07 L958.57,476.01 L961.07,475.95 L963.58,475.89 L966.08,475.82 L968.58,475.76 L971.08,475.69 L973.58,475.63 L976.08,475.57 L978.58,475.50 L981.08,475.44 L983.58,475.37 L986.08,475.31 L988.58,475.24 L991.08,475.18 L993.58,475.11 L996.08,475.05 L998.57,474.98 L1001.07,474.92 L1003.57,474.85 L1006.07,474.78 L1008.57,474.72 L1011.07,474.65 L1013.57,474.59 L1016.07,474.52 L1018.57,474.45 L1021.07,474.39 L1023.57,474.32 L1026.07,474.25 L1028.57,474.19 L1031.06,474.12 L1033.56,474.05 L1036.06,473.99 L1038.56,473.92 L1041.06,473.85 L1043.56,473.79 L1046.06,473.72 L1048.56,473.65 L1051.05,473.58 L1053.55,473.52 L1056.05,473.45 L1058.55,473.38 L1061.05,473.31 L1063.55,473.25 L1066.05,473.18 L1068.54,473.11 L1071.04,473.04 L1073.54,472.97 L1076.04,472.91 L1078.54,472.84 L1081.04,472.77 L1083.54,472.70 L1086.03,472.64 L1088.53,472.57 L1091.03,472.50 L1093.53,472.43 L1096.03,472.36 L1098.53,472.30 L1101.02,472.23 L1103.52,472.16 L1106.02,472.09 L1108.52,472.02 L1111.02,471.96 L1113.52,471.89 L1116.01,471.82 L1118.51,471.75 L1121.01,471.69 L1123.51,471.62 L1126.01,471.55 L1128.51,471.48 L1131.00,471.41 L1133.50,471.35 L1136.00,471.28 L1138.50,471.21 L1141.00,471.15 L1143.50,471.08 L1146.00,471.01 L1148.49,470.94 L1150.99,470.88 L1153.49,470.81 L1155.99,470.74 L1158.49,470.68 L1160.99,470.61 L1163.49,470.54 L1165.98,470.48 L1168.48,470.41 L1170.98,470.34 L1173.48,470.28 L1175.98,470.21 L1178.48,470.14 L1180.98,470.08 L1183.48,470.01 L1185.98,469.95 L1188.47,469.88 L1190.97,469.82 L1193.47,469.75 L1195.97,469.69 L1198.47,469.62 L1200.97,469.56 L1203.47,469.49 L1205.97,469.43 L1208.47,469.36 L1210.97,469.30 L1213.47,469.23 L1215.97,469.17 L1218.47,469.11 L1220.97,469.04 L1223.47,468.98 L1225.97,468.92 L1228.47,468.85 L1230.97,468.79 L1233.47,468.73 L1235.97,468.66 L1238.47,468.60 L1240.97,468.54 L1243.47,468.48 L1245.97,468.42 L1248.47,468.35 L1250.97,468.29 L1253.47,468.23 L1255.97,468.17 L1258.47,468.11 L1260.97,468.05 L1263.47,467.99 L1265.97,467.93 L1268.47,467.87 L1270.98,467.81 L1273.48,467.75 L1275.98,467.69 L1278.48,467.63 L1280.98,467.57 L1283.48,467.51 L1285.98,467.46 L1288.49,467.40 L1290.99,467.34 L1293.49,467.28 L1295.99,467.23 L1298.49,467.17 L1301.00,467.11 L1303.50,467.06 L1306.00,467.00" fill="none" stroke="#ff00ff" stroke-width="6" stroke-linejoin="round" stroke-linecap="round"/>
<path d="M334.30,946.00 L334.40,942.98 L334.50,939.97 L334.60,936.95 L334.71,933.94 L334.83,930.93 L334.94,927.92 L335.07,924.90 L335.19,921.89 L335.33,918.88 L335.46,915.87 L335.60,912.86 L335.75,909.85 L335.89,906.85 L336.04,903.84 L336.20,900.83 L336.36,897.82 L336.52,894.82 L336.69,891.81 L336.86,888.81 L337.03,885.80 L337.20,882.80 L337.38,879.79 L337.56,876.79 L337.75,873.78 L337.94,870.78 L338.13,867.78 L338.32,864.78 L338.51,861.77 L338.71,858.77 L338.91,855.77 L339.11,852.77 L339.32,849.77 L339.52,846.76 L339.73,843.76 L339.94,840.76 L340.15,837.76 L340.37,834.76 L340.58,831.76 L340.80,828.76 L341.01,825.76 L341.23,822.76 L341.45,819.76 L341.68,816.76 L341.90,813.76 L342.12,810.76 L342.35,807.76 L342.57,804.76 L342.80,801.76 L343.03,798.75 L343.25,795.75 L343.48,792.75 L343.71,789.75 L343.94,786.75 L344.16,783.75 L344.39,780.75 L344.62,777.75 L344.85,774.74 L345.08,771.74 L345.30,768.74 L345.53,765.74 L345.76,762.73 L345.99,759.73 L346.21,756.73 L346.44,753.72 L346.66,750.72 L346.88,747.71 L347.10,744.71 L347.33,741.70 L347.55,738.70 L347.77,735.69 L347.99,732.69 L348.22,729.68 L348.44,726.67 L348.66,723.67 L348.89,720.66 L349.12,717.66 L349.34,714.65 L349.57,711.64 L349.81,708.64 L350.04,705.63 L350.28,702.63 L350.51,699.62 L350.76,696.62 L351.00,693.61 L351.25,690.61 L351.50,687.60 L351.76,684.60 L352.01,681.60 L352.28,678.60 L352.55,675.59 L352.82,672.59 L353.09,669.59 L353.38,666.59 L353.66,663.60 L353.95,660.60 L354.25,657.60 L354.56,654.60 L354.86,651.61 L355.18,648.61 L355.50,645.62 L355.83,642.63 L356.17,639.63 L356.51,636.64 L356.86,633.65 L357.22,630.67 L357.58,627.68 L357.95,624.69 L358.34,621.71 L358.73,618.73 L359.12,615.74 L359.53,612.76 L359.95,609.78 L360.37,606.81 L360.81,603.83 L361.25,600.86 L361.70,597.88 L362.17,594.91 L362.64,591.94 L363.13,588.97 L363.62,586.01 L364.13,583.04 L364.65,580.08 L365.18,577.12 L365.73,574.17 L366.29,571.21 L366.86,568.26 L367.45,565.32 L368.06,562.37 L368.68,559.43 L369.32,556.50 L369.98,553.57 L370.66,550.64 L371.35,547.72 L372.07,544.80 L372.80,541.89 L373.56,538.99 L374.34,536.09 L375.14,533.19 L375.96,530.30 L376.80,527.42 L377.67,524.55 L378.57,521.68 L379.49,518.82 L380.43,515.96 L381.41,513.11 L382.40,510.27 L383.42,507.44 L384.46,504.61 L385.53,501.79 L386.61,498.98 L387.72,496.18 L388.85,493.38 L390.00,490.59 L391.17,487.80 L392.35,485.02 L393.55,482.25 L394.77,479.49 L396.01,476.73 L397.26,473.98 L398.52,471.23 L399.80,468.49 L401.10,465.76 L402.40,463.03 L403.72,460.31 L405.05,457.60 L406.38,454.89 L407.73,452.19 L409.09,449.49 L410.46,446.81 L411.83,444.12 L413.22,441.45 L414.62,438.78 L416.03,436.12 L417.45,433.47 L418.88,430.82 L420.32,428.18 L421.78,425.55 L423.25,422.93 L424.73,420.32 L426.22,417.71 L427.73,415.11 L429.25,412.53 L430.78,409.95 L432.33,407.38 L433.89,404.82 L435.46,402.27 L437.05,399.73 L438.65,397.20 L440.27,394.68 L441.91,392.17 L443.56,389.67 L445.23,387.18 L446.91,384.70 L448.61,382.23 L450.32,379.78 L452.05,377.33 L453.80,374.90 L455.57,372.48 L457.36,370.07 L459.16,367.67 L460.98,365.29 L462.82,362.92 L464.68,360.56 L466.56,358.21 L468.45,355.88 L470.37,353.56 L472.30,351.25 L474.25,348.95 L476.22,346.67 L478.21,344.40 L480.21,342.14 L482.23,339.90 L484.26,337.66 L486.31,335.44 L488.37,333.22 L490.44,331.02 L492.53,328.83 L494.62,326.65 L496.73,324.47 L498.85,322.31 L500.98,320.16 L503.12,318.01 L505.27,315.88 L507.43,313.75 L509.59,311.63 L511.76,309.53 L513.94,307.42 L516.12,305.33 L518.31,303.24 L520.50,301.17 L522.70,299.09 L524.90,297.03 L527.10,294.97 L529.31,292.92 L531.52,290.87 L533.73,288.83 L535.94,286.80 L538.14,284.77 L540.35,282.75 L542.56,280.73 L544.76,278.72 L546.98,276.72 L549.21,274.75 L551.46,272.82 L553.74,270.93 L556.07,269.10 L558.45,267.33 L560.88,265.64 L563.36,264.02 L565.89,262.47 L568.46,260.98 L571.08,259.54 L573.73,258.16 L576.42,256.83 L579.13,255.54 L581.87,254.30 L584.64,253.10 L587.43,251.93 L590.25,250.80 L593.08,249.71 L595.93,248.65 L598.79,247.62 L601.66,246.61 L604.55,245.64 L607.45,244.69 L610.35,243.76 L613.25,242.85 L616.16,241.95 L619.07,241.08 L621.98,240.22 L624.88,239.36 L627.78,238.52 L630.67,237.69 L633.57,236.87 L636.46,236.05 L639.34,235.23 L642.22,234.42 L645.10,233.60 L647.98,232.79 L650.86,231.97 L653.73,231.14 L656.60,230.31 L659.47,229.47 L662.34,228.62 L665.20,227.76 L668.07,226.89 L670.93,226.00 L673.79,225.09 L676.65,224.17 L679.51,223.22 L682.37,222.25 L685.23,221.27 L688.09,220.28 L690.95,219.27 L693.82,218.27 L696.68,217.27 L699.55,216.28 L702.42,215.31 L705.30,214.36 L708.19,213.44 L711.08,212.55 L713.97,211.69 L716.87,210.88 L719.79,210.12 L722.71,209.42 L725.63,208.76 L728.57,208.16 L731.51,207.61 L734.46,207.11 L737.42,206.65 L740.39,206.22 L743.36,205.84 L746.33,205.49 L749.31,205.18 L752.30,204.90 L755.28,204.64 L758.28,204.41 L761.27,204.20 L764.27,204.01 L767.27,203.84 L770.28,203.69 L773.28,203.54 L776.29,203.41 L779.30,203.28 L782.30,203.15 L785.31,203.03 L788.32,202.91 L791.33,202.80 L794.33,202.68 L797.34,202.57 L800.35,202.46 L803.36,202.36 L806.37,202.25 L809.38,202.15 L812.39,202.05 L815.39,201.95 L818.40,201.86 L821.41,201.77 L824.42,201.67 L827.43,201.59 L830.44,201.50 L833.45,201.41 L836.46,201.33 L839.47,201.25 L842.48,201.17 L845.49,201.09 L848.50,201.01 L851.51,200.93 L854.52,200.86 L857.53,200.79 L860.54,200.72 L863.55,200.65 L866.56,200.58 L869.57,200.51 L872.58,200.44 L875.59,200.38 L878.60,200.31 L881.61,200.25 L884.62,200.19 L887.63,200.12 L890.64,200.06 L893.66,200.00 L896.67,199.94 L899.68,199.88 L902.69,199.82 L905.70,199.77 L908.71,199.71 L911.72,199.65 L914.73,199.60 L917.74,199.54 L920.76,199.48 L923.77,199.43 L926.78,199.37 L929.79,199.32 L932.80,199.26 L935.81,199.20 L938.82,199.15 L941.83,199.09 L944.84,199.04 L947.86,198.98 L950.87,198.92 L953.88,198.87 L956.89,198.81 L959.90,198.75 L962.91,198.69 L965.92,198.64 L968.93,198.58 L971.95,198.52 L974.96,198.46 L977.97,198.39 L980.98,198.33 L983.99,198.27 L987.00,198.20 L990.01,198.14 L993.02,198.07 L996.03,198.01 L999.04,197.94 L1002.06,197.87 L1005.07,197.80 L1008.08,197.72 L1011.09,197.65 L1014.10,197.58 L1017.11,197.50 L1020.12,197.42 L1023.13,197.34 L1026.14,197.26 L1029.15,197.18 L1032.16,197.09 L1035.17,197.01 L1038.18,196.92 L1041.19,196.83 L1044.20,196.73 L1047.21,196.64 L1050.22,196.54 L1053.23,196.45 L1056.24,196.35 L1059.25,196.25 L1062.26,196.15 L1065.27,196.04 L1068.28,195.94 L1071.29,195.83 L1074.30,195.72 L1077.31,195.61 L1080.31,195.50 L1083.32,195.39 L1086.33,195.28 L1089.34,195.16 L1092.35,195.05 L1095.36,194.93 L1098.37,194.82 L1101.38,194.70 L1104.39,194.58 L1107.39,194.46 L1110.40,194.34 L1113.41,194.22 L1116.42,194.10 L1119.43,193.97 L1122.44,193.85 L1125.45,193.73 L1128.46,193.60 L1131.46,193.48 L1134.47,193.35 L1137.48,193.23 L1140.49,193.10 L1143.50,192.97 L1146.51,192.85 L1149.52,192.72 L1152.52,192.59 L1155.53,192.47 L1158.54,192.34 L1161.55,192.21 L1164.56,192.08 L1167.57,191.96 L1170.58,191.83 L1173.58,191.70 L1176.59,191.58 L1179.60,191.45 L1182.61,191.32 L1185.62,191.20 L1188.63,191.07 L1191.64,190.95 L1194.64,190.83 L1197.65,190.70 L1200.66,190.58 L1203.67,190.46 L1206.68,190.33 L1209.69,190.21 L1212.70,190.09 L1215.71,189.97 L1218.71,189.85 L1221.72,189.74 L1224.73,189.62 L1227.74,189.50 L1230.75,189.39 L1233.76,189.28 L1236.77,189.16 L1239.78,189.05 L1242.79,188.94 L1245.80,188.83 L1248.81,188.73 L1251.82,188.62 L1254.83,188.52 L1257.84,188.41 L1260.85,188.31 L1263.85,188.21 L1266.86,188.11 L1269.87,188.02 L1272.88,187.92 L1275.89,187.83 L1278.90,187.74 L1281.92,187.65 L1284.93,187.56 L1287.94,187.47 L1290.95,187.39 L1293.96,187.31 L1296.97,187.23 L1299.98,187.15 L1302.99,187.07 L1306.00,187.00" fill="none" stroke="#008000" stroke-width="6" stroke-linejoin="round" stroke-linecap="round"/>
<path d="M414.9,934V937" stroke="#000000" stroke-width="6"/><rect x="399.9" y="931" width="30" height="6" rx="2" fill="#000000"/><rect x="399.9" y="934" width="30" height="6" rx="2" fill="#000000"/>
<path d="M495.7,926V930" stroke="#000000" stroke-width="6"/><rect x="480.7" y="923" width="30" height="6" rx="2" fill="#000000"/><rect x="480.7" y="927" width="30" height="6" rx="2" fill="#000000"/>
<path d="M577.2,918.7V918.7" stroke="#000000" stroke-width="6"/><rect x="562.2" y="915.7" width="30" height="6" rx="2" fill="#000000"/><rect x="562.2" y="915.7" width="30" height="6" rx="2" fill="#000000"/>
<path d="M658.5,920.3V920.3" stroke="#000000" stroke-width="6"/><rect x="643.5" y="917.3" width="30" height="6" rx="2" fill="#000000"/><rect x="643.5" y="917.3" width="30" height="6" rx="2" fill="#000000"/>
<path d="M740,909.6V911.7" stroke="#000000" stroke-width="6"/><rect x="725" y="906.6" width="30" height="6" rx="2" fill="#000000"/><rect x="725" y="908.7" width="30" height="6" rx="2" fill="#000000"/>
<path d="M821,915V917" stroke="#000000" stroke-width="6"/><rect x="806" y="912" width="30" height="6" rx="2" fill="#000000"/><rect x="806" y="914" width="30" height="6" rx="2" fill="#000000"/>
<path d="M1309.3,920V922" stroke="#000000" stroke-width="6"/><rect x="1294.3" y="917" width="30" height="6" rx="2" fill="#000000"/><rect x="1294.3" y="919" width="30" height="6" rx="2" fill="#000000"/>
<path d="M353.6,931V937.5" stroke="#ff0000" stroke-width="6"/><rect x="338.6" y="928" width="30" height="6" rx="2" fill="#ff0000"/><rect x="338.6" y="934.5" width="30" height="6" rx="2" fill="#ff0000"/>
<path d="M373.6,931V937.5" stroke="#ff0000" stroke-width="6"/><rect x="358.6" y="928" width="30" height="6" rx="2" fill="#ff0000"/><rect x="358.6" y="934.5" width="30" height="6" rx="2" fill="#ff0000"/>
<path d="M414.9,926V930.5" stroke="#ff0000" stroke-width="6"/><rect x="399.9" y="923" width="30" height="6" rx="2" fill="#ff0000"/><rect x="399.9" y="927.5" width="30" height="6" rx="2" fill="#ff0000"/>
<path d="M455.5,907.4V915.5" stroke="#ff0000" stroke-width="6"/><rect x="440.5" y="904.4" width="30" height="6" rx="2" fill="#ff0000"/><rect x="440.5" y="912.5" width="30" height="6" rx="2" fill="#ff0000"/>
<path d="M495.7,902V908.5" stroke="#ff0000" stroke-width="6"/><rect x="480.7" y="899" width="30" height="6" rx="2" fill="#ff0000"/><rect x="480.7" y="905.5" width="30" height="6" rx="2" fill="#ff0000"/>
<path d="M577.2,895.7V897.6" stroke="#ff0000" stroke-width="6"/><rect x="562.2" y="892.7" width="30" height="6" rx="2" fill="#ff0000"/><rect x="562.2" y="894.6" width="30" height="6" rx="2" fill="#ff0000"/>
<path d="M658.5,896.7V898.8" stroke="#ff0000" stroke-width="6"/><rect x="643.5" y="893.7" width="30" height="6" rx="2" fill="#ff0000"/><rect x="643.5" y="895.8" width="30" height="6" rx="2" fill="#ff0000"/>
<path d="M740,882.7V896.7" stroke="#ff0000" stroke-width="6"/><rect x="725" y="879.7" width="30" height="6" rx="2" fill="#ff0000"/><rect x="725" y="893.7" width="30" height="6" rx="2" fill="#ff0000"/>
<path d="M821,894.8V899.6" stroke="#ff0000" stroke-width="6"/><rect x="806" y="891.8" width="30" height="6" rx="2" fill="#ff0000"/><rect x="806" y="896.6" width="30" height="6" rx="2" fill="#ff0000"/>
<path d="M1309.3,900.5V904.5" stroke="#ff0000" stroke-width="6"/><rect x="1294.3" y="897.5" width="30" height="6" rx="2" fill="#ff0000"/><rect x="1294.3" y="901.5" width="30" height="6" rx="2" fill="#ff0000"/>
<path d="M353.6,875V895.5" stroke="#0000ff" stroke-width="6"/><rect x="338.6" y="872" width="30" height="6" rx="2" fill="#0000ff"/><rect x="338.6" y="892.5" width="30" height="6" rx="2" fill="#0000ff"/>
<path d="M373.6,870V881.6" stroke="#0000ff" stroke-width="6"/><rect x="358.6" y="867" width="30" height="6" rx="2" fill="#0000ff"/><rect x="358.6" y="878.6" width="30" height="6" rx="2" fill="#0000ff"/>
<path d="M414.9,842.3V867" stroke="#0000ff" stroke-width="6"/><rect x="399.9" y="839.3" width="30" height="6" rx="2" fill="#0000ff"/><rect x="399.9" y="864" width="30" height="6" rx="2" fill="#0000ff"/>
<path d="M455.5,831.4V847.6" stroke="#0000ff" stroke-width="6"/><rect x="440.5" y="828.4" width="30" height="6" rx="2" fill="#0000ff"/><rect x="440.5" y="844.6" width="30" height="6" rx="2" fill="#0000ff"/>
<path d="M495.7,814.5V819.3" stroke="#0000ff" stroke-width="6"/><rect x="480.7" y="811.5" width="30" height="6" rx="2" fill="#0000ff"/><rect x="480.7" y="816.3" width="30" height="6" rx="2" fill="#0000ff"/>
<path d="M577.2,789.3V803.5" stroke="#0000ff" stroke-width="6"/><rect x="562.2" y="786.3" width="30" height="6" rx="2" fill="#0000ff"/><rect x="562.2" y="800.5" width="30" height="6" rx="2" fill="#0000ff"/>
<path d="M658.5,780.8V784.5" stroke="#0000ff" stroke-width="6"/><rect x="643.5" y="777.8" width="30" height="6" rx="2" fill="#0000ff"/><rect x="643.5" y="781.5" width="30" height="6" rx="2" fill="#0000ff"/>
<path d="M740,769.6V780.8" stroke="#0000ff" stroke-width="6"/><rect x="725" y="766.6" width="30" height="6" rx="2" fill="#0000ff"/><rect x="725" y="777.8" width="30" height="6" rx="2" fill="#0000ff"/>
<path d="M821,772.6V776.9" stroke="#0000ff" stroke-width="6"/><rect x="806" y="769.6" width="30" height="6" rx="2" fill="#0000ff"/><rect x="806" y="773.9" width="30" height="6" rx="2" fill="#0000ff"/>
<path d="M1309.3,747V751" stroke="#0000ff" stroke-width="6"/><rect x="1294.3" y="744" width="30" height="6" rx="2" fill="#0000ff"/><rect x="1294.3" y="748" width="30" height="6" rx="2" fill="#0000ff"/>
<path d="M353.6,756.25V821.25" stroke="#ff00ff" stroke-width="6"/><rect x="338.6" y="753.25" width="30" height="6" rx="2" fill="#ff00ff"/><rect x="338.6" y="818.25" width="30" height="6" rx="2" fill="#ff00ff"/>
<path d="M373.6,693V714" stroke="#ff00ff" stroke-width="6"/><rect x="358.6" y="690" width="30" height="6" rx="2" fill="#ff00ff"/><rect x="358.6" y="711" width="30" height="6" rx="2" fill="#ff00ff"/>
<path d="M414.9,648V676" stroke="#ff00ff" stroke-width="6"/><rect x="399.9" y="645" width="30" height="6" rx="2" fill="#ff00ff"/><rect x="399.9" y="673" width="30" height="6" rx="2" fill="#ff00ff"/>
<path d="M455.5,617.5V618.5" stroke="#ff00ff" stroke-width="6"/><rect x="440.5" y="614.5" width="30" height="6" rx="2" fill="#ff00ff"/><rect x="440.5" y="615.5" width="30" height="6" rx="2" fill="#ff00ff"/>
<path d="M495.7,559.6V606.3" stroke="#ff00ff" stroke-width="6"/><rect x="480.7" y="556.6" width="30" height="6" rx="2" fill="#ff00ff"/><rect x="480.7" y="603.3" width="30" height="6" rx="2" fill="#ff00ff"/>
<path d="M577.2,526.3V531" stroke="#ff00ff" stroke-width="6"/><rect x="562.2" y="523.3" width="30" height="6" rx="2" fill="#ff00ff"/><rect x="562.2" y="528" width="30" height="6" rx="2" fill="#ff00ff"/>
<path d="M658.5,496.4V518.6" stroke="#ff00ff" stroke-width="6"/><rect x="643.5" y="493.4" width="30" height="6" rx="2" fill="#ff00ff"/><rect x="643.5" y="515.6" width="30" height="6" rx="2" fill="#ff00ff"/>
<path d="M740,481V485.5" stroke="#ff00ff" stroke-width="6"/><rect x="725" y="478" width="30" height="6" rx="2" fill="#ff00ff"/><rect x="725" y="482.5" width="30" height="6" rx="2" fill="#ff00ff"/>
<path d="M821,477.3V483.3" stroke="#ff00ff" stroke-width="6"/><rect x="806" y="474.3" width="30" height="6" rx="2" fill="#ff00ff"/><rect x="806" y="480.3" width="30" height="6" rx="2" fill="#ff00ff"/>
<path d="M1309.3,468V468" stroke="#ff00ff" stroke-width="6"/><rect x="1294.3" y="465" width="30" height="6" rx="2" fill="#ff00ff"/><rect x="1294.3" y="465" width="30" height="6" rx="2" fill="#ff00ff"/>
<path d="M353.6,612V668.8" stroke="#008000" stroke-width="6"/><rect x="338.6" y="609" width="30" height="6" rx="2" fill="#008000"/><rect x="338.6" y="665.8" width="30" height="6" rx="2" fill="#008000"/>
<path d="M373.6,496.3V556.8" stroke="#008000" stroke-width="6"/><rect x="358.6" y="493.3" width="30" height="6" rx="2" fill="#008000"/><rect x="358.6" y="553.8" width="30" height="6" rx="2" fill="#008000"/>
<path d="M414.9,401.5V472.8" stroke="#008000" stroke-width="6"/><rect x="399.9" y="398.5" width="30" height="6" rx="2" fill="#008000"/><rect x="399.9" y="469.8" width="30" height="6" rx="2" fill="#008000"/>
<path d="M455.5,311.4V425.8" stroke="#008000" stroke-width="6"/><rect x="440.5" y="308.4" width="30" height="6" rx="2" fill="#008000"/><rect x="440.5" y="422.8" width="30" height="6" rx="2" fill="#008000"/>
<path d="M495.7,293.8V366.4" stroke="#008000" stroke-width="6"/><rect x="480.7" y="290.8" width="30" height="6" rx="2" fill="#008000"/><rect x="480.7" y="363.4" width="30" height="6" rx="2" fill="#008000"/>
<path d="M577.2,200.6V290.4" stroke="#008000" stroke-width="6"/><rect x="562.2" y="197.6" width="30" height="6" rx="2" fill="#008000"/><rect x="562.2" y="287.4" width="30" height="6" rx="2" fill="#008000"/>
<path d="M658.5,192.7V275.5" stroke="#008000" stroke-width="6"/><rect x="643.5" y="189.7" width="30" height="6" rx="2" fill="#008000"/><rect x="643.5" y="272.5" width="30" height="6" rx="2" fill="#008000"/>
<path d="M740,165.2V236.3" stroke="#008000" stroke-width="6"/><rect x="725" y="162.2" width="30" height="6" rx="2" fill="#008000"/><rect x="725" y="233.3" width="30" height="6" rx="2" fill="#008000"/>
<path d="M821,197.4V214.1" stroke="#008000" stroke-width="6"/><rect x="806" y="194.4" width="30" height="6" rx="2" fill="#008000"/><rect x="806" y="211.1" width="30" height="6" rx="2" fill="#008000"/>
<path d="M1309.3,170.5V204" stroke="#008000" stroke-width="6"/><rect x="1294.3" y="167.5" width="30" height="6" rx="2" fill="#008000"/><rect x="1294.3" y="201" width="30" height="6" rx="2" fill="#008000"/>
<line x1="366.6" y1="2153.68" x2="1258" y2="1590.94" stroke="#000000" stroke-width="6.2"/>
<rect x="351.9" y="2142.9" width="26" height="24" fill="#000000"/>
<rect x="546.4" y="2028.3" width="26" height="24" fill="#000000"/>
<rect x="741.4" y="1873.6" width="26" height="24" fill="#000000"/>
<rect x="936" y="1781" width="26" height="24" fill="#000000"/>
<rect x="1130.2" y="1663.3" width="26" height="24" fill="#000000"/>
<rect x="1245" y="1567.4" width="26" height="24" fill="#000000"/>
<line x1="366.6" y1="2007.8" x2="1258" y2="1452.02" stroke="#ff0000" stroke-width="6.2"/>
<ellipse cx="365" cy="2003" rx="15" ry="14" fill="#ff0000"/>
<ellipse cx="560.1" cy="1891.4" rx="15" ry="14" fill="#ff0000"/>
<ellipse cx="754.4" cy="1764" rx="15" ry="14" fill="#ff0000"/>
<ellipse cx="949" cy="1645.9" rx="15" ry="14" fill="#ff0000"/>
<ellipse cx="1143" cy="1522.2" rx="15" ry="14" fill="#ff0000"/>
<ellipse cx="1258.5" cy="1450.5" rx="15" ry="14" fill="#ff0000"/>
<line x1="366.6" y1="1935.67" x2="1258" y2="1424.18" stroke="#0000ff" stroke-width="6.2"/>
<path d="M364.6,1915.2L382.1,1943.2L347.1,1943.2Z" fill="#0000ff"/>
<path d="M559.9,1794.9L577.4,1822.9L542.4,1822.9Z" fill="#0000ff"/>
<path d="M754,1706.6L771.5,1734.6L736.5,1734.6Z" fill="#0000ff"/>
<path d="M949.8,1595.5L967.3,1623.5L932.3,1623.5Z" fill="#0000ff"/>
<path d="M1143.8,1468.7L1161.3,1496.7L1126.3,1496.7Z" fill="#0000ff"/>
<path d="M1258,1397.5L1275.5,1425.5L1240.5,1425.5Z" fill="#0000ff"/>
<line x1="366.6" y1="1879.89" x2="1258" y2="1389.44" stroke="#ff00ff" stroke-width="6.2"/>
<path d="M364.6,1905.9L382.1,1877.9L347.1,1877.9Z" fill="#ff00ff"/>
<path d="M559.9,1781L577.4,1753L542.4,1753Z" fill="#ff00ff"/>
<path d="M754,1690L771.5,1662L736.5,1662Z" fill="#ff00ff"/>
<path d="M949.8,1566.5L967.3,1538.5L932.3,1538.5Z" fill="#ff00ff"/>
<path d="M1143.8,1470.4L1161.3,1442.4L1126.3,1442.4Z" fill="#ff00ff"/>
<path d="M1258,1411L1275.5,1383L1240.5,1383Z" fill="#ff00ff"/>
<line x1="366.6" y1="1828.91" x2="1258" y2="1360.31" stroke="#008000" stroke-width="6.2"/>
<path d="M365,1824L383,1841L365,1858L347,1841Z" fill="#008000"/>
<path d="M560.7,1706L578.7,1723L560.7,1740L542.7,1723Z" fill="#008000"/>
<path d="M754,1593.8L772,1610.8L754,1627.8L736,1610.8Z" fill="#008000"/>
<path d="M949.8,1499.5L967.8,1516.5L949.8,1533.5L931.8,1516.5Z" fill="#008000"/>
<path d="M1143.8,1412.7L1161.8,1429.7L1143.8,1446.7L1125.8,1429.7Z" fill="#008000"/>
<path d="M1259,1345.4L1277,1362.4L1259,1379.4L1241,1362.4Z" fill="#008000"/>
<text transform="translate(215.77,965.89) scale(1.0050,1)" font-size="92.8" fill="#000">0.0</text>
<text transform="translate(217.82,819.29) scale(1.0050,1)" font-size="92.8" fill="#000">0.1</text>
<text transform="translate(217.37,672.69) scale(1.0050,1)" font-size="92.8" fill="#000">0.2</text>
<text transform="translate(215.86,526.09) scale(1.0050,1)" font-size="92.8" fill="#000">0.3</text>
<text transform="translate(213.68,379.49) scale(1.0050,1)" font-size="92.8" fill="#000">0.4</text>
<text transform="translate(215.86,232.89) scale(1.0050,1)" font-size="92.8" fill="#000">0.5</text>
<text transform="translate(215,86.29) scale(1.0050,1)" font-size="92.8" fill="#000">0.6</text>
<text transform="translate(312.14,1007.19) scale(1.0600,1)" font-size="82.5" fill="#000">0</text>
<text transform="translate(513.3,1007.19) scale(1.0600,1)" font-size="82.5" fill="#000">5</text>
<text transform="translate(696.1,1007.19) scale(1.0600,1)" font-size="82.5" fill="#000">10</text>
<text transform="translate(898.14,1007.19) scale(1.0600,1)" font-size="82.5" fill="#000">15</text>
<text transform="translate(1100.52,1007.19) scale(1.0600,1)" font-size="82.5" fill="#000">20</text>
<text transform="translate(1305.06,1007.19) scale(1.0600,1)" font-size="82.5" fill="#000">25</text>
<text transform="translate(673.88,1095.02) scale(1.0538,1)" font-size="85" fill="#000">Time</text>
<text transform="translate(884.58,1095.01) scale(1.0214,1)" font-size="85" fill="#000">(h)</text>
<text transform="translate(193.49,902.6) rotate(-90) scale(1.0743,1)" font-size="84" fill="#000">Released</text>
<text transform="translate(193.51,557.72) rotate(-90) scale(1.0663,1)" font-size="84" fill="#000">TCH</text>
<text transform="translate(193.49,360.86) rotate(-90) scale(1.0455,1)" font-size="84" fill="#000">(mg)</text>
<text transform="translate(334.81,157.8) scale(0.9902,1)" font-size="92.1" fill="#000">A</text>
<text transform="translate(1345.2,210.21) scale(1.1995,1)" font-size="81.09" fill="#008000">e</text>
<text transform="translate(1344.32,493.17) scale(1.1943,1)" font-size="85.27" fill="#ff00ff">d</text>
<text transform="translate(1348.1,771.21) scale(1.1017,1)" font-size="81.09" fill="#0000ff">c</text>
<text transform="translate(1348,899.21) scale(1.1224,1)" font-size="81.01" fill="#ff0000">b</text>
<text transform="translate(1350.8,939.2) scale(1.1193,1)" font-size="81.42" fill="#000">a</text>
<text transform="translate(229.45,1379.25) scale(1.1000,1)" font-size="86.7" fill="#000">0</text>
<text transform="translate(199.78,1706.6) scale(1.1000,1)" font-size="86.7" fill="#000">-1</text>
<text transform="translate(199.32,2033.1) scale(1.1000,1)" font-size="86.7" fill="#000">-2</text>
<text transform="translate(240.59,2248.8) scale(1.0830,1)" font-size="87.1" fill="#000">-1</text>
<text transform="translate(537.42,2247.95) scale(1.0830,1)" font-size="87.1" fill="#000">0</text>
<text transform="translate(817,2248.8) scale(1.0830,1)" font-size="87.1" fill="#000">1</text>
<text transform="translate(1099.95,2248.8) scale(1.0830,1)" font-size="87.1" fill="#000">2</text>
<text transform="translate(1379.3,2247.95) scale(1.0830,1)" font-size="87.1" fill="#000">3</text>
<text transform="translate(760.92,2330.22) scale(1.0828,1)" font-size="86.79" fill="#000">ln(t)</text>
<text transform="translate(318.65,1384.54) scale(1.0079,1)" font-size="87.88" fill="#000">B</text>
<text transform="translate(1286.01,1345.7) scale(1.1514,1)" font-size="82.13" fill="#008000">e</text>
<text transform="translate(1289.64,1397.21) scale(1.1560,1)" font-size="80.44" fill="#ff00ff">d</text>
<text transform="translate(1299.09,1438.21) scale(1.0721,1)" font-size="81.09" fill="#0000ff">c</text>
<text transform="translate(1297.3,1492.97) scale(1.2110,1)" font-size="85.27" fill="#ff0000">b</text>
<text transform="translate(1305.48,1595.69) scale(1.2157,1)" font-size="82.46" fill="#000">a</text>
<text transform="translate(125.3,1949.35) rotate(-90) scale(1.1140,1)" font-size="83.16" fill="#000">ln(M</text>
<text transform="translate(189.11,1772.03) rotate(-90) scale(1.1594,1)" font-size="90.79" fill="#000">t</text>
<text transform="translate(135.97,1744) rotate(-90) scale(0.9972,1)" font-size="105.39" fill="#000">/</text>
<text transform="translate(126.8,1718.64) rotate(-90) scale(1.1468,1)" font-size="85.83" fill="#000">M</text>
<text transform="translate(181.92,1639.42) rotate(-90) scale(1.4752,1)" font-size="61.7" fill="#000">∞</text>
<text transform="translate(126,1582.07) rotate(-90) scale(1.1947,1)" font-size="79.85" fill="#000">)</text>
</g>
</svg></body></html>
